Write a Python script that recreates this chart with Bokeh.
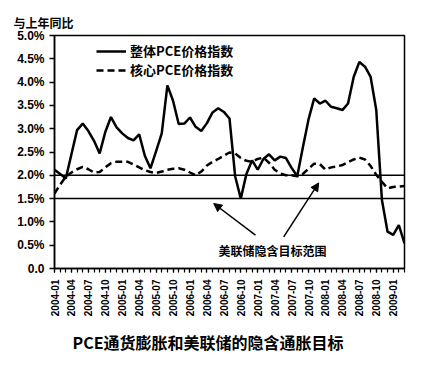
from bokeh.plotting import figure
from bokeh.models import (Range1d, FixedTicker, Span, Label, Arrow, NormalHead,
                          Legend, LegendItem, Title)
from bokeh.embed import file_html
from bokeh.resources import INLINE
import math

months = [f"{y}-{m:02d}" for y in range(2004, 2010) for m in range(1, 13)][:63]

headline = [2.12, 2.03, 1.93, 2.45, 2.97, 3.11, 2.95, 2.74, 2.47, 2.93,
            3.25, 3.03, 2.90, 2.80, 2.75, 2.88, 2.42, 2.15, 2.52, 2.90,
            3.93, 3.60, 3.10, 3.11, 3.24, 3.04, 2.95, 3.12, 3.35, 3.44,
            3.36, 3.22, 1.98, 1.50, 2.03, 2.32, 2.12, 2.35, 2.45, 2.32,
            2.40, 2.37, 2.16, 1.98, 2.60, 3.20, 3.65, 3.54, 3.60, 3.47,
            3.44, 3.40, 3.54, 4.11, 4.43, 4.33, 4.11, 3.40, 1.47, 0.79,
            0.72, 0.93, 0.54]

core = [1.61, 1.80, 1.97, 2.06, 2.13, 2.18, 2.13, 2.06, 2.07, 2.17,
        2.26, 2.29, 2.29, 2.29, 2.23, 2.17, 2.11, 2.07, 2.05, 2.08,
        2.12, 2.14, 2.15, 2.12, 2.06, 2.00, 2.08, 2.21, 2.29, 2.35,
        2.42, 2.49, 2.47, 2.37, 2.31, 2.29, 2.35, 2.38, 2.27, 2.12,
        2.04, 2.00, 2.00, 1.98, 2.03, 2.14, 2.25, 2.24, 2.12, 2.17,
        2.19, 2.22, 2.28, 2.34, 2.38, 2.34, 2.20, 2.01, 1.86, 1.72,
        1.75, 1.76, 1.77]

target_band = [1.5, 2.0]
y_ticks = [0.0, 0.5, 1.0, 1.5, 2.0, 2.5, 3.0, 3.5, 4.0, 4.5, 5.0]
y_tick_labels = ["0.0", "0.5%", "1.0%", "1.5%", "2.0%", "2.5%", "3.0%",
                 "3.5%", "4.0%", "4.5%", "5.0%"]

series_names = ["整体PCE价格指数", "核心PCE价格指数"]
title_text = "PCE通货膨胀和美联储的隐含通胀目标"
y_title = "与上年同比"
note_text = "美联储隐含目标范围"

x = list(range(len(months)))
major_idx = x[::3]

CJK = "Noto Sans CJK SC"

p = figure(width=426, height=365, output_backend="svg", toolbar_location=None,
           x_range=Range1d(0, len(months) - 1), y_range=Range1d(0, 5),
           min_border_left=54, min_border_right=22, min_border_top=35,
           min_border_bottom=97)
p.background_fill_color = "white"
p.border_fill_color = "white"
p.outline_line_color = "black"
p.outline_line_width = 1.5
p.xgrid.visible = False
p.ygrid.visible = False

# x axis
p.xaxis.ticker = FixedTicker(ticks=major_idx, minor_ticks=x)
p.xaxis.major_label_overrides = {i: months[i] for i in major_idx}
p.xaxis.major_label_orientation = math.pi / 2
p.xaxis.major_label_text_font = "Liberation Sans"
p.xaxis.major_label_text_font_style = "bold"
p.xaxis.major_label_text_font_size = "10px"
p.xaxis.major_label_text_color = "black"
p.xaxis.major_label_standoff = 7
p.xaxis.major_tick_in = 0
p.xaxis.major_tick_out = 4
p.xaxis.minor_tick_in = 0
p.xaxis.minor_tick_out = 4
p.xaxis.axis_line_width = 1.5
p.xaxis.major_tick_line_width = 1.2
p.xaxis.minor_tick_line_width = 1.2

# y axis
p.yaxis.ticker = FixedTicker(ticks=y_ticks, minor_ticks=[])
p.yaxis.major_label_overrides = {v: s for v, s in zip(y_ticks, y_tick_labels)}
p.yaxis.major_label_text_font = "Liberation Sans"
p.yaxis.major_label_text_font_style = "bold"
p.yaxis.major_label_text_font_size = "12px"
p.yaxis.major_label_text_color = "black"
p.yaxis.major_label_standoff = 5
p.yaxis.major_tick_in = 0
p.yaxis.major_tick_out = 5
p.yaxis.minor_tick_line_color = None
p.yaxis.axis_line_width = 1.5
p.yaxis.major_tick_line_width = 1.5

# target band lines
for v in target_band:
    p.add_layout(Span(location=v, dimension="width", line_color="black",
                      line_width=1.5))

r1 = p.line(x, headline, line_color="black", line_width=2.5)
r2 = p.line(x, core, line_color="black", line_width=2.5, line_dash="7 4")

legend = Legend(items=[LegendItem(label=series_names[0], renderers=[r1]),
                       LegendItem(label=series_names[1], renderers=[r2])],
                location=(42, 189), padding=0, margin=0, spacing=0,
                glyph_width=30, glyph_height=18, label_height=18,
                label_standoff=4, border_line_color=None,
                background_fill_alpha=0,
                label_text_font=CJK, label_text_font_style="bold",
                label_text_font_size="13px", label_text_color="black")
p.add_layout(legend)

# arrows to target band
for xs, ys, xe, ye in [(35.6, 0.715, 28.2, 1.395), (40.6, 0.678, 46.8, 1.837)]:
    p.add_layout(Arrow(end=NormalHead(size=8, fill_color="black",
                                      line_color="black"),
                       x_start=xs, y_start=ys, x_end=xe, y_end=ye,
                       line_color="black", line_width=1.5))

p.add_layout(Label(x=38.6, y=0.39, text=note_text, text_align="center",
                   text_baseline="middle", text_font=CJK,
                   text_font_style="bold", text_font_size="12px",
                   text_color="black"))

# y title at top-left
p.add_layout(Title(text=y_title, align="left", offset=-41, standoff=10,
                   text_font=CJK, text_font_style="bold",
                   text_font_size="12px", text_color="black"), "above")

# chart title at bottom
p.add_layout(Title(text=title_text, align="left", offset=18, standoff=16,
                   text_font=CJK, text_font_style="bold",
                   text_font_size="16px", text_color="black"), "below")

open("out.html", "w").write(file_html(p, INLINE))
